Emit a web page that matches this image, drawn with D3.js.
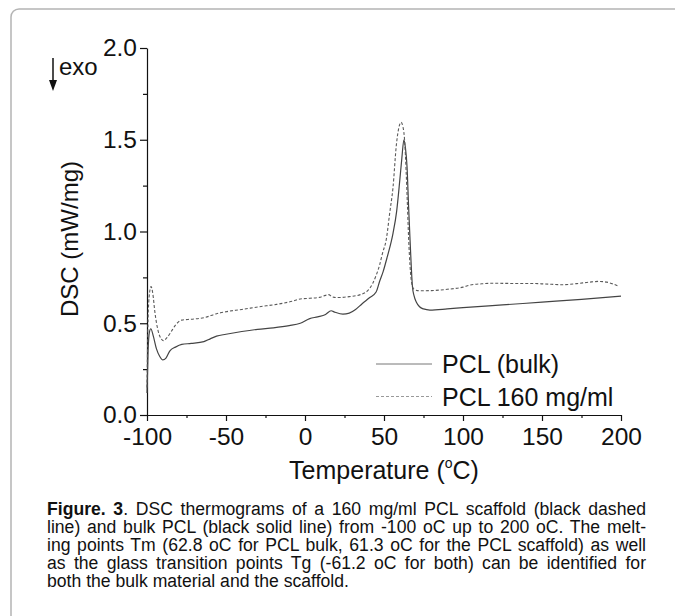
<!DOCTYPE html>
<html>
<head>
<meta charset="utf-8">
<script src="https://cdn.jsdelivr.net/npm/d3@7"></script>
<style>
  body { margin: 0; background: #fff; }
  svg { display: block; }
</style>
</head>
<body>
<svg id="drawing_region"></svg>
<script>
// temperatures (°C) and DSC values (mW/mg)
const bulkT = [-100, -99.3, -98.5, -97.6, -96, -94, -92, -90, -88, -85.5, -82, -78, -72, -64, -60, -56, -50, -40, -30, -20, -10, -3, 3, 8, 13, 16.5, 19, 24, 28, 32, 36, 41, 45, 47.3, 49.4, 52, 55.7, 58, 60, 61.3, 62.6, 63.5, 64.6, 65.5, 66.3, 67.2, 68, 69, 70.5, 72.5, 75, 79, 90, 100, 125, 150, 175, 200];
const bulkV = [0.12, 0.35, 0.45, 0.47, 0.43, 0.36, 0.32, 0.30, 0.31, 0.35, 0.37, 0.385, 0.39, 0.40, 0.415, 0.43, 0.44, 0.455, 0.467, 0.475, 0.487, 0.50, 0.525, 0.535, 0.548, 0.568, 0.56, 0.55, 0.555, 0.575, 0.605, 0.64, 0.67, 0.73, 0.78, 0.86, 0.99, 1.11, 1.28, 1.40, 1.50, 1.46, 1.35, 1.15, 0.99, 0.82, 0.70, 0.65, 0.615, 0.59, 0.578, 0.572, 0.578, 0.585, 0.600, 0.615, 0.630, 0.648];

const scafT = [-100, -99.5, -98.7, -97.4, -96.3, -95, -93, -91, -89.5, -87.5, -85, -82, -78, -72, -64, -56, -50, -40, -29, -18, -8, -3, 3, 9, 13, 15, 17, 20, 28, 35, 40, 43, 45, 47.3, 49, 51.5, 53.6, 55.7, 57.8, 59.5, 60.8, 62, 63.1, 64, 64.8, 65.6, 66.5, 67.5, 69, 72, 80, 90, 100, 104, 112, 120, 130, 142, 152, 163, 172, 180, 186, 191, 195, 198];
const scafV = [0.15, 0.45, 0.64, 0.70, 0.66, 0.56, 0.46, 0.415, 0.405, 0.42, 0.45, 0.49, 0.517, 0.522, 0.53, 0.552, 0.563, 0.575, 0.59, 0.603, 0.62, 0.632, 0.636, 0.641, 0.652, 0.656, 0.645, 0.64, 0.645, 0.656, 0.68, 0.72, 0.76, 0.82, 0.88, 0.96, 1.10, 1.24, 1.47, 1.57, 1.595, 1.57, 1.49, 1.33, 1.15, 0.96, 0.81, 0.72, 0.685, 0.677, 0.678, 0.685, 0.697, 0.707, 0.715, 0.718, 0.717, 0.717, 0.714, 0.71, 0.716, 0.724, 0.728, 0.724, 0.714, 0.703];

const xTicks = [-100, -50, 0, 50, 100, 150, 200];
const xMinor = [-75, -25, 25, 75, 125, 175];
const yTicks = [0.0, 0.5, 1.0, 1.5, 2.0];
const yMinor = [0.25, 0.75, 1.25, 1.75];
const legendLabels = ["PCL (bulk)", "PCL 160 mg/ml"];

const captionLines = [
  [["Figure. 3", true], [". DSC thermograms of a 160 mg/ml PCL scaffold (black dashed", false]],
  [["line) and bulk PCL (black solid line) from -100 oC up to 200 oC. The melt-", false]],
  [["ing points Tm (62.8 oC for PCL bulk, 61.3 oC for the PCL scaffold) as well", false]],
  [["as the glass transition points Tg (-61.2 oC for both) can be identified for", false]],
  [["both the bulk material and the scaffold.", false]]
];

const W = 675, H = 616;
const font = "'Liberation Sans', Arial, sans-serif";

const svg = d3.select("#drawing_region").attr("width", W).attr("height", H);
svg.append("rect").attr("width", W).attr("height", H).attr("fill", "#fff");

// page frame
svg.append("rect")
    .attr("x", 11).attr("y", 9)
    .attr("width", W + 20).attr("height", H + 20)
    .attr("rx", 8)
    .attr("fill", "none")
    .attr("stroke", "#b4b4b4")
    .attr("stroke-width", 1.5);

const x = d3.scaleLinear().domain([-100, 200]).range([147, 621]);
const y = d3.scaleLinear().domain([0, 2]).range([415, 48]);

// axes
svg.append("g").attr("transform", `translate(0,${y(0)})`)
    .call(d3.axisBottom(x).tickValues(xTicks).tickSize(6).tickSizeOuter(0).tickPadding(7)
        .tickFormat(d => String(d)));
svg.append("g").attr("transform", `translate(0,${y(0)})`)
    .call(d3.axisBottom(x).tickValues(xMinor).tickSize(3).tickSizeOuter(0).tickFormat(""))
    .select(".domain").remove();

svg.append("g").attr("transform", `translate(${x(-100)},0)`)
    .call(d3.axisLeft(y).tickValues(yTicks).tickSize(7).tickSizeOuter(0).tickPadding(3)
        .tickFormat(d3.format(".1f")));
svg.append("g").attr("transform", `translate(${x(-100)},0)`)
    .call(d3.axisLeft(y).tickValues(yMinor).tickSize(4).tickSizeOuter(0).tickFormat(""))
    .select(".domain").remove();

svg.selectAll(".tick text")
    .attr("font-family", font)
    .attr("font-size", 24.5)
    .attr("fill", "#111");
svg.selectAll(".domain, .tick line").attr("stroke", "#111").attr("stroke-width", 1.2);

// axis titles
const xt = svg.append("text")
    .attr("x", (x(-100) + x(200)) / 2).attr("y", 479)
    .attr("text-anchor", "middle")
    .attr("font-family", font).attr("font-size", 25).attr("fill", "#111");
xt.append("tspan").text("Temperature (");
xt.append("tspan").attr("font-size", 14).attr("dy", -11).text("o");
xt.append("tspan").attr("dy", 11).text("C)");

svg.append("text")
    .attr("transform", "translate(78,239) rotate(-90)")
    .attr("text-anchor", "middle")
    .attr("font-family", font).attr("font-size", 24).attr("fill", "#111")
    .text("DSC (mW/mg)");

// exo arrow
svg.append("line")
    .attr("x1", 53).attr("y1", 58).attr("x2", 53).attr("y2", 82)
    .attr("stroke", "#111").attr("stroke-width", 1.5);
svg.append("path")
    .attr("d", "M49,80 L57,80 L53,91 Z")
    .attr("fill", "#111");
svg.append("text")
    .attr("x", 59).attr("y", 75)
    .attr("font-family", font).attr("font-size", 24).attr("fill", "#111")
    .text("exo");

// curves
const line = d3.line()
    .x(d => x(d[0]))
    .y(d => y(d[1]))
    .curve(d3.curveMonotoneX);

const styles = [
  { stroke: "#444", width: 1.2, dash: null },
  { stroke: "#5a5a5a", width: 1.1, dash: "3,2" }
];

svg.append("path")
    .datum(d3.zip(bulkT, bulkV))
    .attr("d", line)
    .attr("fill", "none")
    .attr("stroke", styles[0].stroke)
    .attr("stroke-width", styles[0].width);

svg.append("path")
    .datum(d3.zip(scafT, scafV))
    .attr("d", line)
    .attr("fill", "none")
    .attr("stroke", styles[1].stroke)
    .attr("stroke-width", styles[1].width)
    .attr("stroke-dasharray", styles[1].dash);

// legend
const legend = svg.append("g");
legendLabels.forEach((lab, i) => {
  const ly = 364 + i * 32.5;
  legend.append("line")
      .attr("x1", 376).attr("x2", 432).attr("y1", ly).attr("y2", ly)
      .attr("stroke", i === 0 ? "#777" : "#999")
      .attr("stroke-width", 1)
      .attr("stroke-dasharray", styles[i].dash);
  legend.append("text")
      .attr("x", 442).attr("y", ly + 9)
      .attr("font-family", font).attr("font-size", 25).attr("fill", "#111")
      .text(lab);
});

// caption, justified between 47 and 646
const capLeft = 47, capRight = 646;
captionLines.forEach((parts, i) => {
  const t = svg.append("text")
      .attr("x", capLeft).attr("y", 515 + i * 18.1)
      .attr("font-family", font).attr("font-size", 17.6).attr("fill", "#111");
  parts.forEach(p => {
    t.append("tspan").attr("font-weight", p[1] ? "bold" : null).text(p[0]);
  });
  if (i < captionLines.length - 1) {
    const natural = t.node().getComputedTextLength();
    const spaces = parts.map(p => p[0]).join("").split(" ").length - 1;
    const extra = (capRight - capLeft - natural) / spaces;
    if (extra > 0) {
      t.attr("word-spacing", extra);
    } else {
      t.attr("textLength", capRight - capLeft).attr("lengthAdjust", "spacingAndGlyphs");
    }
  }
});
</script>
</body>
</html>
